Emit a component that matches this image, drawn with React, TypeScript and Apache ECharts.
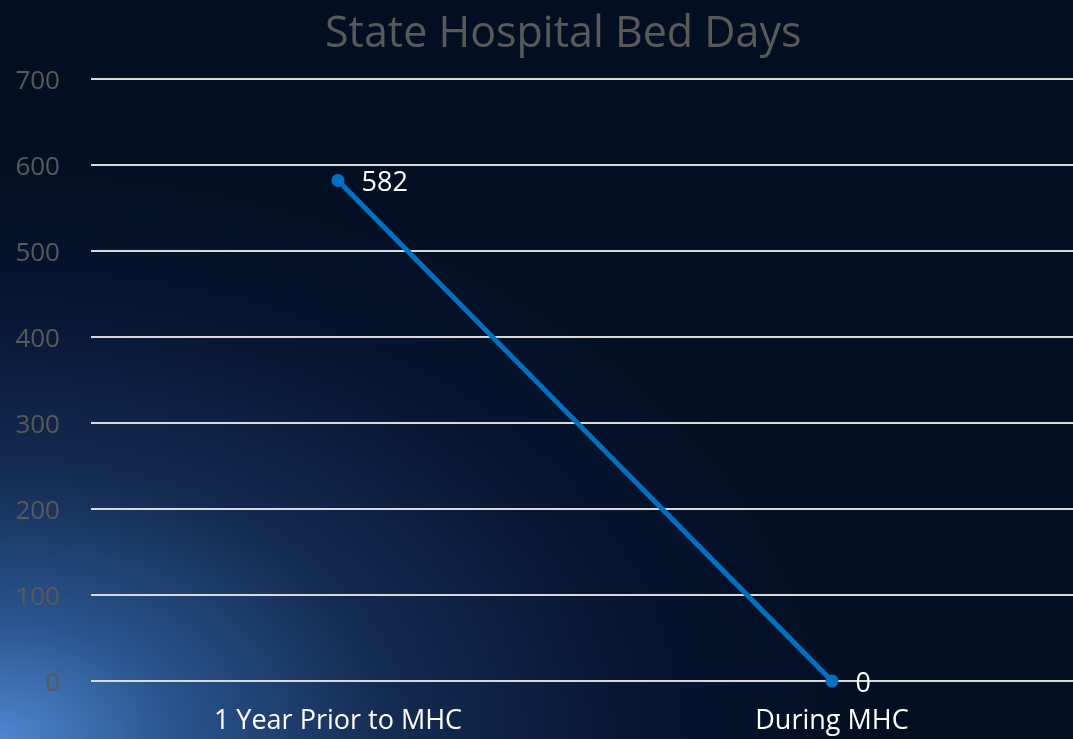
import React, { useEffect, useRef } from "react";
import * as echarts from "echarts";

const categories = ["1 Year Prior to MHC", "During MHC"];
const bedDays = [582, 0];
const yTicks = { min: 0, max: 700, interval: 100 };

export default function App() {
  const ref = useRef<HTMLDivElement>(null);
  useEffect(() => {
    if (!ref.current) return;
    const chart = echarts.init(ref.current, undefined, { renderer: "svg" });
    chart.setOption({
      animation: false,
      backgroundColor: new echarts.graphic.RadialGradient(0, 1, 0.8, [
        { offset: 0, color: "#4f86d0" },
        { offset: 0.2, color: "#2a5590" },
        { offset: 0.45, color: "#142c52" },
        { offset: 0.75, color: "#061530" },
        { offset: 1, color: "#020f22" },
      ]),
      title: {
        text: "State Hospital Bed Days",
        left: 325,
        top: 5,
        padding: 0,
        textStyle: {
          color: "#595959",
          fontSize: 43,
          lineHeight: 50,
          fontWeight: "normal",
          fontFamily: "Open Sans",
        },
      },
      grid: {
        left: 91,
        width: 988,
        top: 79,
        bottom: 58,
        containLabel: false,
        outerBoundsMode: "none",
      },
      xAxis: {
        type: "category",
        data: categories,
        boundaryGap: true,
        axisLine: { show: false },
        axisTick: { show: false },
        axisLabel: {
          color: "#ffffff",
          fontSize: 27,
          fontFamily: "Open Sans",
          margin: 24,
        },
      },
      yAxis: {
        type: "value",
        min: yTicks.min,
        max: yTicks.max,
        interval: yTicks.interval,
        axisLine: { show: false },
        axisTick: { show: false },
        axisLabel: {
          color: "#595959",
          fontSize: 26,
          fontFamily: "Open Sans",
          margin: 31,
        },
        splitLine: { lineStyle: { color: "#d9d9d9", width: 2 } },
      },
      series: [
        {
          type: "line",
          data: bedDays,
          symbol: "circle",
          symbolSize: 13,
          lineStyle: { color: "#0070c0", width: 5 },
          itemStyle: { color: "#0070c0" },
          label: {
            show: true,
            position: "right",
            distance: 17,
            color: "#ffffff",
            fontSize: 27,
            fontFamily: "Open Sans",
          },
        },
      ],
    });
    return () => chart.dispose();
  }, []);
  return (
    <div
      ref={ref}
      style={{ position: "fixed", left: 0, top: 0, width: 1073, height: 739 }}
    />
  );
}
